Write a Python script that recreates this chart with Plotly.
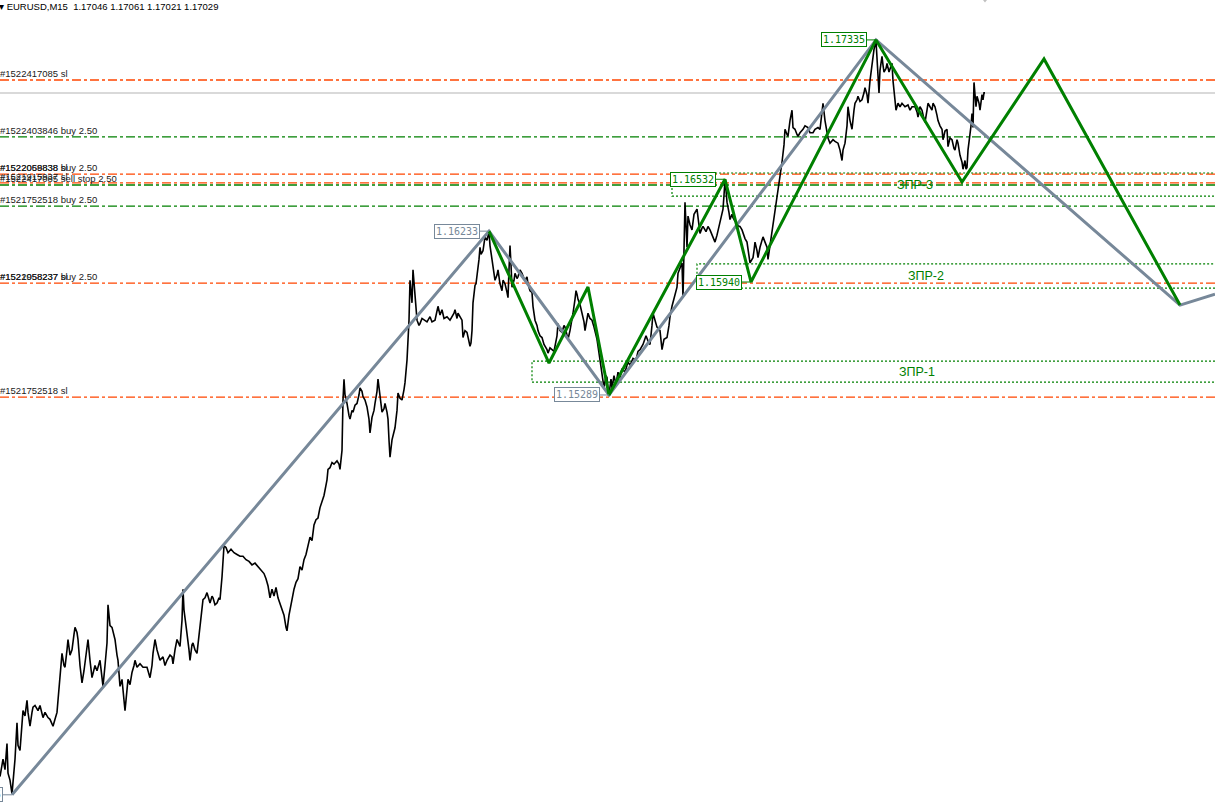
import plotly.graph_objects as go

# EURUSD M15 window as seen in the screenshot: bar number on x, price on y
X_RANGE = [0, 1215]
Y_RANGE = [1.12909, 1.17565]

header_symbol = "EURUSD,M15"
header_ohlc = [1.17046, 1.17061, 1.17021, 1.17029]
bid = 1.17029

# close line
bars_a = [0, 3, 5, 7, 8, 10, 12, 14, 15, 17, 18, 20, 22, 23, 25, 27, 28, 30, 32, 33,
          35, 38, 40, 43, 45, 48, 50, 53, 55, 57, 58, 59, 60, 62, 64, 65, 67, 68, 70, 72,
          74, 75, 77, 78, 80, 82, 84, 85, 87, 88, 90, 92, 95, 97, 100, 102, 103, 105, 107, 108,
          110, 112, 114, 115, 117, 118, 120, 122, 124, 125, 127, 128, 130, 132, 134, 135, 137, 140, 143, 147,
          150, 152, 153, 155, 157, 158, 160, 163, 165, 167, 170, 172, 173, 175, 177, 180, 182, 183, 184, 186,
          187, 189, 190, 192, 193, 195, 197, 199, 200, 202, 203, 205, 207, 209, 210, 212, 213, 215, 217, 219,
          220, 222, 223, 224, 226]
close_a = [1.1309, 1.1319, 1.1313, 1.1328, 1.1311, 1.1307, 1.1299, 1.1310, 1.1319, 1.1340, 1.1327, 1.1324, 1.1339, 1.1347, 1.1344, 1.1353, 1.1346, 1.1338, 1.1346, 1.1349,
           1.1350, 1.1347, 1.1350, 1.1343, 1.1346, 1.1343, 1.1342, 1.1338, 1.1342, 1.1346, 1.1353, 1.1361, 1.1370, 1.1380, 1.1373, 1.1372, 1.1382, 1.1388, 1.1379, 1.1382,
           1.1391, 1.1395, 1.1392, 1.1388, 1.1373, 1.1363, 1.1370, 1.1374, 1.1382, 1.1388, 1.1376, 1.1366, 1.1373, 1.1370, 1.1376, 1.1368, 1.1361, 1.1373, 1.1386, 1.1408,
           1.1396, 1.1395, 1.1391, 1.1388, 1.1379, 1.1376, 1.1361, 1.1365, 1.1353, 1.1347, 1.1359, 1.1365, 1.1362, 1.1369, 1.1373, 1.1376, 1.1372, 1.1374, 1.1372, 1.1372,
           1.1366, 1.1373, 1.1380, 1.1388, 1.1382, 1.1380, 1.1376, 1.1378, 1.1373, 1.1376, 1.1379, 1.1378, 1.1374, 1.1382, 1.1388, 1.1384, 1.1399, 1.1417, 1.1405, 1.1396,
           1.1392, 1.1382, 1.1376, 1.1385, 1.1386, 1.1382, 1.1380, 1.1391, 1.1398, 1.1408, 1.1411, 1.1412, 1.1415, 1.1411, 1.1409, 1.1413, 1.1412, 1.1408, 1.1409, 1.1412,
           1.1411, 1.1424, 1.1434, 1.1442, 1.1441]

bars_b = [228, 231, 234, 237, 240, 243, 246, 249, 252, 255, 258, 261, 264, 266, 268, 270, 272, 274, 276, 278,
          280, 282, 284, 286, 287, 289, 290, 292, 294, 296, 298, 300, 302, 304, 306, 308, 310, 312, 314, 316,
          318, 320, 322, 324, 326, 327]
close_b = [1.1438, 1.1440, 1.1438, 1.1437, 1.1436, 1.1436, 1.1434, 1.1433, 1.1431, 1.1432, 1.1430, 1.1428, 1.1426, 1.1423, 1.1419, 1.1412, 1.1417, 1.1413, 1.1418, 1.1412,
           1.1409, 1.1405, 1.1402, 1.1395, 1.1393, 1.1402, 1.1406, 1.1411, 1.1417, 1.1421, 1.1423, 1.1430, 1.1428, 1.1434, 1.1437, 1.1442, 1.1447, 1.1445, 1.1454, 1.1457,
           1.1458, 1.1464, 1.1468, 1.1471, 1.1477, 1.1480]

bars_c = [328, 330, 332, 334, 337, 339, 340, 342, 343, 344, 345, 347, 349, 350, 352, 353, 355, 357, 359, 360,
          362, 363, 365, 367, 369, 370, 372, 374, 375, 377, 378, 380, 382, 384, 385, 387, 388, 389, 390, 392,
          394, 395, 397, 398, 400, 402, 404, 405, 407, 408, 409, 410, 411, 412, 413, 414, 415, 416, 417, 419,
          420, 422, 425, 427, 430, 432, 435, 437, 438, 440, 442, 444, 447, 450, 452, 454, 455, 457, 458, 460,
          462, 463, 465, 467, 469, 470, 471, 472, 473, 474, 475, 476, 477, 479, 480, 481, 483]
close_c = [1.1486, 1.1487, 1.1490, 1.1489, 1.1491, 1.1489, 1.1486, 1.1497, 1.1526, 1.1538, 1.1529, 1.1524, 1.1517, 1.1515, 1.1520, 1.1519, 1.1523, 1.1524, 1.1529, 1.1533,
           1.1531, 1.1528, 1.1526, 1.1522, 1.1515, 1.1507, 1.1516, 1.1520, 1.1524, 1.1531, 1.1538, 1.1529, 1.1519, 1.1521, 1.1524, 1.1519, 1.1515, 1.1503, 1.1493, 1.1503,
           1.1508, 1.1510, 1.1520, 1.1530, 1.1527, 1.1526, 1.1532, 1.1536, 1.1549, 1.1559, 1.1572, 1.1595, 1.1589, 1.1582, 1.1601, 1.1594, 1.1589, 1.1581, 1.1572, 1.1569,
           1.1570, 1.1573, 1.1572, 1.1571, 1.1574, 1.1571, 1.1572, 1.1577, 1.1580, 1.1575, 1.1578, 1.1573, 1.1574, 1.1572, 1.1574, 1.1576, 1.1578, 1.1573, 1.1576, 1.1574,
           1.1572, 1.1562, 1.1566, 1.1565, 1.1558, 1.1557, 1.1559, 1.1566, 1.1582, 1.1589, 1.1592, 1.1593, 1.1597, 1.1607, 1.1614, 1.1610, 1.1612]

bars_d = [485, 487, 489, 490, 492, 493, 495, 497, 498, 500, 502, 503, 505, 507, 508, 509, 510, 511, 512, 514,
          515, 517, 518, 520, 522, 524, 525, 527, 528, 530, 532, 533, 535, 537, 538, 540, 542, 544, 545, 547,
          548, 550, 552, 554, 555, 557, 558, 560, 562, 564, 565, 567, 568, 570, 572, 573, 575, 576, 577, 578,
          580, 582, 584, 585, 587, 588, 590, 592, 594, 595, 597, 598, 600, 602, 603, 604, 606, 607, 608, 609]
close_d = [1.1620, 1.1618, 1.1623, 1.1615, 1.1607, 1.1602, 1.1595, 1.1598, 1.1601, 1.1593, 1.1589, 1.1595, 1.1593, 1.1588, 1.1585, 1.1601, 1.1615, 1.1604, 1.1591, 1.1595,
           1.1599, 1.1596, 1.1597, 1.1601, 1.1599, 1.1596, 1.1595, 1.1597, 1.1593, 1.1589, 1.1588, 1.1580, 1.1572, 1.1569, 1.1566, 1.1563, 1.1562, 1.1558, 1.1557, 1.1555,
           1.1553, 1.1556, 1.1555, 1.1554, 1.1557, 1.1563, 1.1570, 1.1566, 1.1565, 1.1569, 1.1568, 1.1563, 1.1561, 1.1566, 1.1572, 1.1576, 1.1584, 1.1589, 1.1587, 1.1584,
           1.1581, 1.1576, 1.1571, 1.1566, 1.1572, 1.1576, 1.1573, 1.1572, 1.1568, 1.1566, 1.1561, 1.1557, 1.1549, 1.1542, 1.1535, 1.1533, 1.1540, 1.1539, 1.1532, 1.1529]

bars_e = [611, 612, 614, 616, 618, 620, 622, 625, 628, 630, 633, 636, 638, 640, 643, 645, 646, 648, 650, 652,
          653, 655, 657, 660, 662, 664, 667, 669, 670, 672, 674, 677, 678, 680, 682, 683, 684, 685, 686, 687,
          688, 690, 692, 694, 697, 699, 700, 702, 703, 706, 708, 710, 712, 715, 717, 720, 722, 723, 724, 725,
          726, 727, 729, 730, 732, 733, 735, 737, 739, 740, 742, 743, 745, 747, 749, 750, 752, 753, 754, 755,
          757, 758, 760, 762, 763, 765, 767, 768, 770, 772, 774, 775, 777, 778, 780]
close_e = [1.1538, 1.1533, 1.1540, 1.1535, 1.1542, 1.1539, 1.1544, 1.1542, 1.1548, 1.1546, 1.1550, 1.1549, 1.1554, 1.1555, 1.1558, 1.1561, 1.1563, 1.1560, 1.1558, 1.1569,
           1.1576, 1.1572, 1.1568, 1.1566, 1.1555, 1.1561, 1.1562, 1.1569, 1.1574, 1.1580, 1.1584, 1.1591, 1.1599, 1.1602, 1.1605, 1.1585, 1.1607, 1.1640, 1.1627, 1.1614,
           1.1632, 1.1627, 1.1624, 1.1633, 1.1636, 1.1627, 1.1622, 1.1625, 1.1626, 1.1623, 1.1626, 1.1624, 1.1621, 1.1617, 1.1621, 1.1628, 1.1633, 1.1636, 1.1644, 1.1653,
           1.1647, 1.1640, 1.1634, 1.1630, 1.1633, 1.1631, 1.1629, 1.1628, 1.1626, 1.1626, 1.1624, 1.1622, 1.1619, 1.1617, 1.1610, 1.1605, 1.1607, 1.1608, 1.1612, 1.1617,
           1.1612, 1.1608, 1.1614, 1.1618, 1.1620, 1.1617, 1.1614, 1.1607, 1.1615, 1.1624, 1.1630, 1.1636, 1.1641, 1.1647, 1.1653]

bars_f = [782, 784, 785, 787, 788, 790, 792, 793, 795, 797, 798, 800, 803, 805, 808, 810, 813, 815, 818, 820,
          822, 823, 825, 827, 828, 830, 833, 835, 838, 840, 842, 843, 845, 847, 848, 850, 852, 854, 855, 857,
          858, 860, 862, 864, 865, 867, 868, 870, 872, 873, 874, 876, 877, 878, 879, 880, 882, 883, 884, 886,
          887, 889, 890, 892, 893, 894, 895, 896, 898, 900, 902, 905, 908, 910, 912, 915, 917, 918, 920, 922,
          924, 925, 927, 928, 930, 932, 933, 935, 937, 938, 940, 942, 943, 945, 947, 948, 950, 952, 954, 955,
          957, 958, 960, 962, 963, 964, 965, 966, 967, 968, 970, 971, 972, 973, 974, 975, 976, 977, 979, 980,
          981, 982, 983, 984, 985]
close_f = [1.1663, 1.1673, 1.1682, 1.1679, 1.1678, 1.1687, 1.1693, 1.1683, 1.1682, 1.1679, 1.1678, 1.1680, 1.1682, 1.1684, 1.1683, 1.1680, 1.1680, 1.1682, 1.1683, 1.1682,
           1.1690, 1.1697, 1.1687, 1.1680, 1.1677, 1.1674, 1.1676, 1.1675, 1.1674, 1.1670, 1.1664, 1.1670, 1.1674, 1.1684, 1.1695, 1.1687, 1.1682, 1.1693, 1.1697, 1.1699,
           1.1701, 1.1698, 1.1699, 1.1703, 1.1706, 1.1702, 1.1697, 1.1710, 1.1720, 1.1725, 1.1728, 1.1733, 1.1722, 1.1713, 1.1703, 1.1716, 1.1724, 1.1719, 1.1715, 1.1717,
           1.1720, 1.1715, 1.1717, 1.1720, 1.1710, 1.1703, 1.1699, 1.1693, 1.1697, 1.1695, 1.1697, 1.1695, 1.1696, 1.1693, 1.1695, 1.1695, 1.1692, 1.1689, 1.1695, 1.1693,
           1.1688, 1.1686, 1.1693, 1.1697, 1.1695, 1.1693, 1.1697, 1.1695, 1.1690, 1.1687, 1.1684, 1.1682, 1.1676, 1.1681, 1.1682, 1.1672, 1.1677, 1.1676, 1.1671, 1.1670,
           1.1676, 1.1674, 1.1667, 1.1663, 1.1659, 1.1661, 1.1664, 1.1659, 1.1660, 1.1670, 1.1678, 1.1684, 1.1691, 1.1683, 1.1709, 1.1702, 1.1695, 1.1701, 1.1697, 1.1693,
           1.1699, 1.1702, 1.1699, 1.1703, 1.1703]

bars = bars_a + bars_b + bars_c + bars_d + bars_e + bars_f
close = close_a + close_b + close_c + close_d + close_e + close_f

# zigzags: the big grey one and the small green one (last legs are projections)
zz_big_bars = [12, 489, 609, 876, 1180, 1215]
zz_big_price = [1.12985, 1.16233, 1.15289, 1.17335, 1.15807, 1.15870]
zz_small_bars = [489, 549, 588, 609, 725, 751, 876, 962, 1044, 1180]
zz_small_price = [1.16233, 1.15473, 1.15911, 1.15289, 1.16532, 1.15940, 1.17335, 1.16516, 1.17225, 1.15807]

# price tags next to the pivots
tag_text = ["1.12985", "1.16233", "1.15289", "1.17335", "1.16532", "1.15940"]
tag_bar = [12, 489, 609, 876, 725, 751]
tag_price = [1.12985, 1.16233, 1.15289, 1.17335, 1.16532, 1.15940]
tag_big = [True, True, True, False, False, False]

# order lines (sl / buy / pending), text drawn at the left edge
# two of the buy lines sit exactly under an sl line, only their text shows
order_text = ["#1522417085 sl", "#1522403846 buy 2.50", "#1522058838 buy 2.50", "#1522069838 sl",
              "#1522417085 sell stop 2.50", "#1521915937 sl", "#1521752518 buy 2.50",
              "#1521958237 buy 2.50", "#1522058237 sl", "#1521752518 sl"]
order_price = [1.17104, 1.16776, 1.16562, 1.16562, 1.16499, 1.16511, 1.16377, 1.15934, 1.15934, 1.15277]
order_is_sl = [True, False, False, True, False, True, False, False, True, True]
order_hidden = [False, False, True, False, False, False, False, True, False, False]

# ЗПР zones
zone_names = ["ЗПР-1", "ЗПР-2", "ЗПР-3"]
zone_start = [532, 697, 672]
zone_top = [1.15484, 1.16044, 1.16568]
zone_bottom = [1.15363, 1.15905, 1.16435]
zone_label_bar = [917, 926, 915]

RED = "#FF4500"
GREEN = "#008000"
GREY = "#778899"
DASHDOT = "9px,3px,3px,3px"

fig = go.Figure()

fig.add_trace(go.Scatter(x=bars, y=close, mode="lines",
                         line=dict(color="black", width=1.6), hoverinfo="skip"))
fig.add_trace(go.Scatter(x=zz_big_bars, y=zz_big_price, mode="lines",
                         line=dict(color=GREY, width=3), hoverinfo="skip"))
fig.add_trace(go.Scatter(x=zz_small_bars, y=zz_small_price, mode="lines",
                         line=dict(color=GREEN, width=3), hoverinfo="skip"))

# chart shift marker at the top
fig.add_trace(go.Scatter(x=[985], y=[Y_RANGE[1] + 0.00008], mode="markers",
                         marker=dict(symbol="triangle-down", size=8, color="#C0C0C0"),
                         hoverinfo="skip"))

# bid line
fig.add_shape(type="line", x0=X_RANGE[0], x1=X_RANGE[1], y0=bid, y1=bid,
              line=dict(color="#B4B4B4", width=1.2), layer="below")

for txt, price, sl, hidden in zip(order_text, order_price, order_is_sl, order_hidden):
    if not hidden:
        fig.add_shape(type="line", x0=X_RANGE[0], x1=X_RANGE[1], y0=price, y1=price,
                      line=dict(color=RED if sl else GREEN, width=1.3, dash=DASHDOT), layer="below")
    fig.add_annotation(x=X_RANGE[0], y=price, text=txt, showarrow=False,
                       xanchor="left", yanchor="bottom", xshift=-2, yshift=-1,
                       font=dict(family="Liberation Sans", size=9.5, color="#1a1a1a"))

for name, x0, top, bottom, lx in zip(zone_names, zone_start, zone_top, zone_bottom, zone_label_bar):
    fig.add_shape(type="rect", x0=x0, x1=X_RANGE[1] + 20, y0=bottom, y1=top,
                  line=dict(color=GREEN, width=1.2, dash="2px,2px"), layer="below")
    fig.add_annotation(x=lx, y=(top + bottom) / 2, text=name, showarrow=False,
                       font=dict(family="Liberation Sans", size=12.5, color=GREEN))

for txt, b, price, big in zip(tag_text, tag_bar, tag_price, tag_big):
    col = GREY if big else GREEN
    fig.add_shape(type="line", x0=b - 9, x1=b, y0=price, y1=price,
                  line=dict(color=col, width=1))
    fig.add_annotation(x=b - 9, y=price, text=txt, showarrow=False,
                       xanchor="right", yanchor="middle",
                       bordercolor=col, borderwidth=1, borderpad=1, bgcolor="white",
                       font=dict(family="DejaVu Sans Mono", size=10, color=col))

header = header_symbol + "\u00a0 " + " ".join("%.5f" % v for v in header_ohlc)
fig.add_annotation(xref="paper", yref="paper", x=0, y=1, text="\u25be " + header,
                   showarrow=False, xanchor="left", yanchor="top", xshift=-3, yshift=1,
                   font=dict(family="Liberation Sans", size=9.5, color="black"))

fig.update_layout(
    width=1215,
    height=808,
    margin=dict(l=0, r=0, t=0, b=0),
    paper_bgcolor="white",
    plot_bgcolor="white",
    showlegend=False,
    xaxis=dict(range=X_RANGE, visible=False, fixedrange=True),
    yaxis=dict(range=Y_RANGE, visible=False, fixedrange=True),
)

# the page's default body margin would push the chart 8px off the window corner
fig.write_html("out.html", config={"displayModeBar": False},
               post_script="document.body.style.margin = '0px';")
